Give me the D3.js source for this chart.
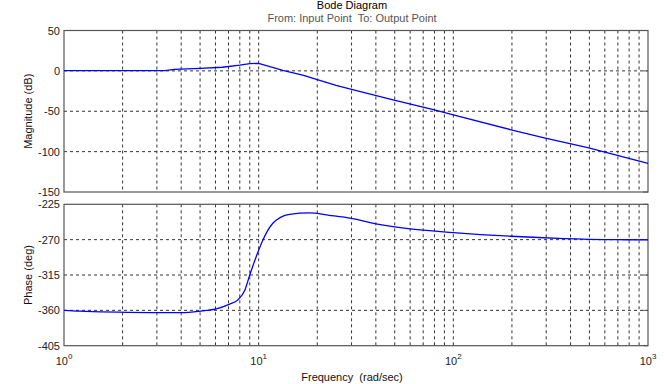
<!DOCTYPE html>
<html>
<head>
<meta charset="utf-8">
<script src="https://cdn.jsdelivr.net/npm/d3@7"></script>
<style>
  body { margin: 0; background: #fff; }
  text { font-family: "Liberation Sans", Arial, sans-serif; }
</style>
</head>
<body>
<svg width="664" height="384"></svg>
<script>
// values
const magFreq = [1, 3.3, 3.7, 5, 6.5, 8, 9, 10, 13.3, 17, 21, 25, 30, 49, 79, 100, 198, 293, 490, 1000];
const magDb = [0.3, 0.3, 1.8, 3, 4.5, 7, 9, 9.3, 0.5, -5.5, -12.5, -18, -23, -36, -48, -54.5, -73, -83, -95, -114.5];

const phFreq = [1, 1.2, 2.76, 3.9, 5.4, 6.06, 7.1, 7.8, 8.5, 9.0, 9.7, 10.5, 11.8, 14.4, 18.3, 23, 30, 39.4, 58.5, 100, 198, 372, 700, 1000];
const phDeg = [-360, -361, -362.8, -363, -360, -358, -352, -347, -334, -315, -292, -270.7, -249.5, -237.7, -236, -239, -243, -249.5, -256, -261, -265.7, -268.6, -270, -270.3];

const magTicks = [50, 0, -50, -100, -150];
const phTicks = [-225, -270, -315, -360, -405];
const decades = [0, 1, 2, 3];

const svg = d3.select('svg');
const left = 64, right = 648;

const x = d3.scaleLog().domain([1, 1000]).range([left, right]);
const yMag = d3.scaleLinear().domain([-150, 50]).range([192, 30.5]);
const yPh = d3.scaleLinear().domain([-405, -225]).range([345.7, 204.3]);

// every log grid position between 10^0 and 10^3
const gridFreqs = [];
decades.slice(0, 3).forEach(e => {
  for (let k = 1; k < 10; k++) gridFreqs.push(k * Math.pow(10, e));
});
gridFreqs.push(1000);

function panel(y, ticks, freqs, vals, label, curve) {
  const g = svg.append('g');
  const [y0, y1] = y.range();

  g.selectAll('.vgrid')
    .data(gridFreqs.filter(f => f > 1 && f < 1000))
    .enter().append('line')
    .attr('x1', d => x(d)).attr('x2', d => x(d))
    .attr('y1', y1).attr('y2', y0)
    .attr('stroke', '#333')
    .attr('stroke-width', 1)
    .attr('stroke-dasharray', '3,3');

  g.selectAll('.hgrid')
    .data(ticks.slice(1, -1))
    .enter().append('line')
    .attr('x1', left).attr('x2', right)
    .attr('y1', d => y(d)).attr('y2', d => y(d))
    .attr('stroke', '#333')
    .attr('stroke-width', 1)
    .attr('stroke-dasharray', '3,3');

  // right side ticks
  g.selectAll('.rtick')
    .data(ticks)
    .enter().append('line')
    .attr('x1', right - 5).attr('x2', right)
    .attr('y1', d => y(d)).attr('y2', d => y(d))
    .attr('stroke', '#555');

  g.append('rect')
    .attr('x', left).attr('y', y1)
    .attr('width', right - left).attr('height', y0 - y1)
    .attr('fill', 'none')
    .attr('stroke', '#555')
    .attr('stroke-width', 1.2);

  g.selectAll('.ylab')
    .data(ticks)
    .enter().append('text')
    .attr('x', left - 4)
    .attr('y', d => y(d) + 4)
    .attr('text-anchor', 'end')
    .attr('font-size', 11)
    .attr('fill', '#222')
    .text(d => d);

  const line = d3.line()
    .x((d, i) => x(freqs[i]))
    .y(d => y(d))
    .curve(curve);

  g.append('path')
    .datum(vals)
    .attr('d', line)
    .attr('fill', 'none')
    .attr('stroke', '#0000ff')
    .attr('stroke-width', 1.3);

  g.append('text')
    .attr('transform', `translate(32,${(y0 + y1) / 2}) rotate(-90)`)
    .attr('text-anchor', 'middle')
    .attr('font-size', 11)
    .attr('fill', '#111')
    .text(label);
}

panel(yMag, magTicks, magFreq, magDb, 'Magnitude (dB)', d3.curveLinear);
panel(yPh, phTicks, phFreq, phDeg, 'Phase (deg)', d3.curveMonotoneX);

// x tick labels 10^n
const xl = svg.selectAll('.xlab')
  .data(decades)
  .enter().append('text')
  .attr('x', d => x(Math.pow(10, d)))
  .attr('y', 365)
  .attr('text-anchor', 'middle')
  .attr('font-size', 11)
  .attr('fill', '#222');
xl.append('tspan').text('10');
xl.append('tspan').attr('dy', -6).attr('font-size', 8).text(d => d);

svg.append('text')
  .attr('x', 352).attr('y', 9)
  .attr('text-anchor', 'middle')
  .attr('font-size', 11)
  .attr('fill', '#000')
  .text('Bode Diagram');

svg.append('text')
  .attr('x', 352).attr('y', 22)
  .attr('text-anchor', 'middle')
  .attr('font-size', 11)
  .attr('fill', '#555')
  .style('white-space', 'pre')
  .text('From: Input Point  To: Output Point');

svg.append('text')
  .attr('x', 352).attr('y', 381)
  .attr('text-anchor', 'middle')
  .attr('font-size', 11)
  .attr('fill', '#111')
  .style('white-space', 'pre')
  .text('Frequency  (rad/sec)');
</script>
</body>
</html>
